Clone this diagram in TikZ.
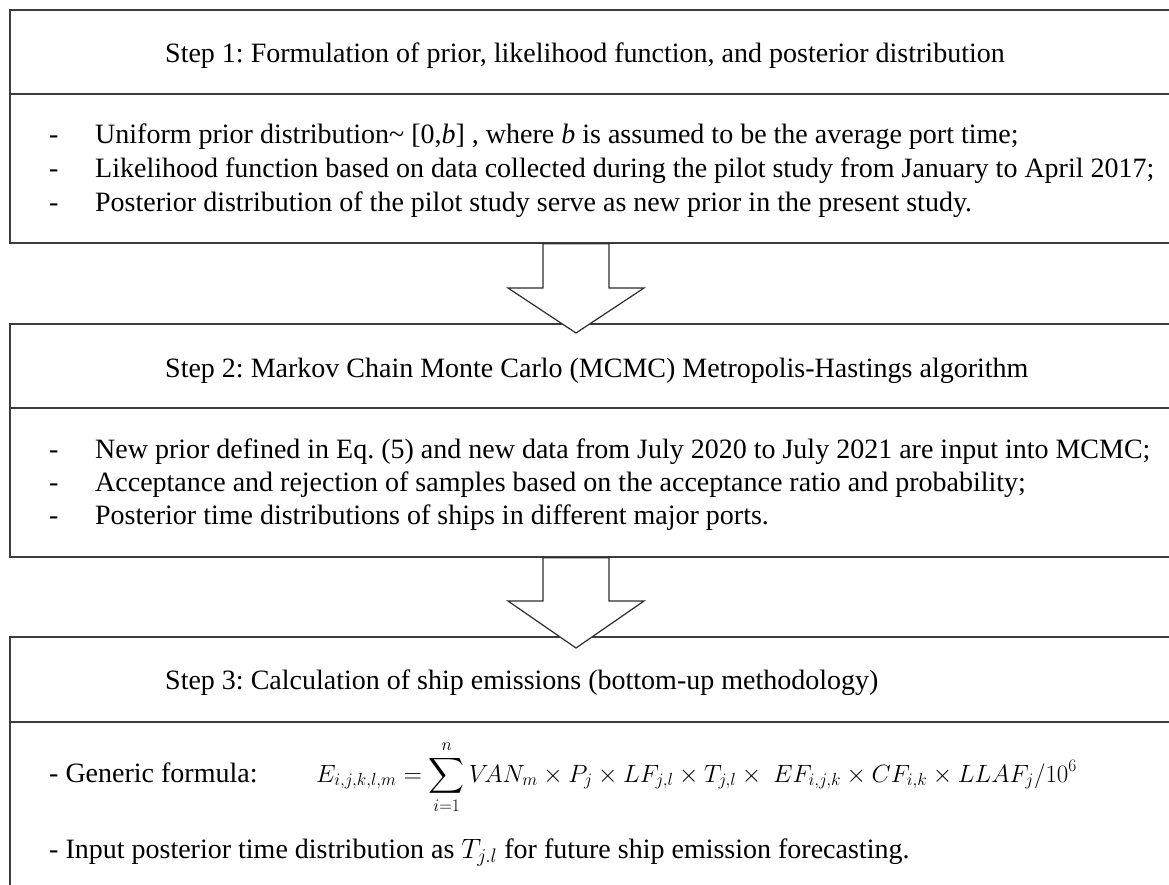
\RequirePackage{fix-cm}
\documentclass[tikz,border=0pt]{standalone}
\usepackage{exscale}
\usepackage{fontspec}
\setmainfont{Liberation Serif}
\usetikzlibrary{calc}
\definecolor{boxgray}{HTML}{3C3C3C}
\definecolor{arrowgray}{HTML}{2E2E2E}
\frenchspacing
\begin{document}
\begin{tikzpicture}[x=1pt,y=-1pt,
  stepbox/.style={draw=boxgray, line width=1.8pt, minimum width=1200pt, anchor=north west, inner sep=0pt},
  divider/.style={draw=boxgray, line width=1.8pt},
  blockarrow/.style={draw=arrowgray, line width=1.2pt, fill=white, line join=miter},
  txt/.style={font=\fontsize{28}{34}\selectfont, inner sep=0pt, anchor=base west, text=black},
  formula/.style={font=\fontsize{25}{30}\selectfont, inner sep=0pt, anchor=base west, text=black}]
\useasboundingbox (0,0) rectangle (1169,884);
\clip (0,0) rectangle (1169,884);
\fill[white] (0,0) rectangle (1169,884);

% boxes
\node[stepbox, minimum height=233pt] (box1) at (9,9) {};
\node[stepbox, minimum height=233pt] (box2) at (9,323) {};
\node[stepbox, minimum height=300pt] (box3) at (9,636) {};
\draw[divider] ($(box1.north west)+(0,85)$) -- ($(box1.north east)+(0,85)$);
\draw[divider] ($(box2.north west)+(0,85)$) -- ($(box2.north east)+(0,85)$);
\draw[divider] ($(box3.north west)+(0,86)$) -- ($(box3.north east)+(0,86)$);

% block arrows
\coordinate (s1) at ($(box1.south west)+(567,0)$);
\coordinate (e1) at ($(box2.north west)+(567,10)$);
\coordinate (s2) at ($(box2.south west)+(567,0)$);
\coordinate (e2) at ($(box3.north west)+(567,12)$);
\draw[blockarrow] ($(s1)+(-33,0)$) -- ($(e1)+(-33,-45)$) -- ($(e1)+(-68,-45)$) -- (e1)
  -- ($(e1)+(68,-45)$) -- ($(e1)+(33,-45)$) -- ($(s1)+(33,0)$) -- cycle;
\draw[blockarrow] ($(s2)+(-33,0)$) -- ($(e2)+(-33,-47)$) -- ($(e2)+(-68,-47)$) -- (e2)
  -- ($(e2)+(68,-47)$) -- ($(e2)+(33,-47)$) -- ($(s2)+(33,0)$) -- cycle;

% step 1
\node[txt] (t1) at (165,62) {Step 1: Formulation of prior, likelihood function, and posterior distribution};
\node[txt] (b11) at (49,143) {\makebox[46pt][l]{-}Uniform prior distribution\textasciitilde{} [0,\textit{b}] , where \textit{b} is assumed to be the average port time;};
\node[txt] (b12) at (49,177) {\makebox[46pt][l]{-}Likelihood function based on data collected during the pilot study from January to April 2017;};
\node[txt] (b13) at (49,211) {\makebox[46pt][l]{-}Posterior distribution of the pilot study serve as new prior in the present study.};

% step 2
\node[txt] (t2) at (165,377) {Step 2: Markov Chain Monte Carlo (MCMC) Metropolis-Hastings algorithm};
\node[txt] (b21) at (49,458) {\makebox[46pt][l]{-}New prior defined in Eq. (5) and new data from July 2020 to July 2021 are input into MCMC;};
\node[txt] (b22) at (49,491) {\makebox[46pt][l]{-}Acceptance and rejection of samples based on the acceptance ratio and probability;};
\node[txt] (b23) at (49,524) {\makebox[46pt][l]{-}Posterior time distributions of ships in different major ports.};

% step 3
\node[txt] (t3) at (165,689) {Step 3: Calculation of ship emissions (bottom-up methodology)};
\node[txt] (b31) at (49,782) {- Generic formula:};
\node[formula] (f31) at (316,782) {$\displaystyle E_{i,j,k,l,m} = \sum_{i=1}^{n} V\!AN_m \times P_j \times LF_{j,l} \times T_{j,l} \times\ EF_{i,j,k} \times CF_{i,k} \times LLAF_j / 10^6$};
\node[txt] (b32) at (49,858) {- Input posterior time distribution as $T_{j.l}$ for future ship emission forecasting.};
\end{tikzpicture}
\end{document}
